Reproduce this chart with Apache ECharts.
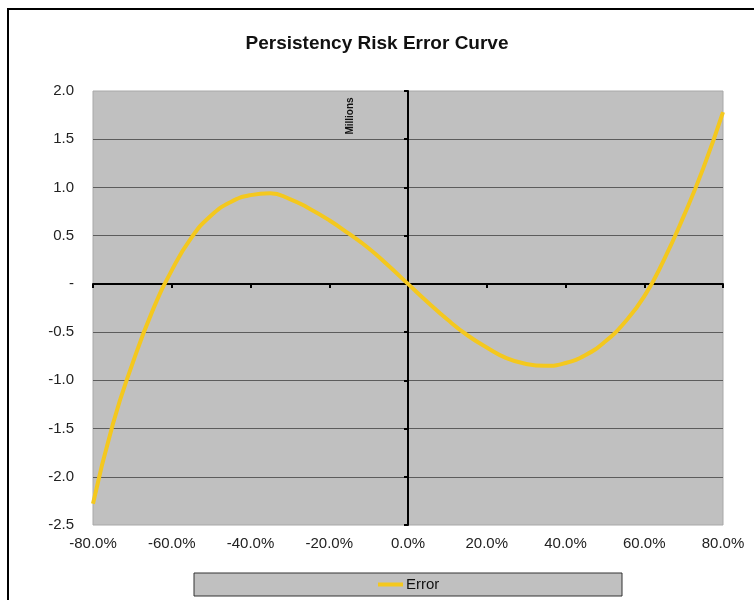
<!DOCTYPE html>
<html>
<head>
<meta charset="utf-8">
<script src="https://cdn.jsdelivr.net/npm/echarts@6/dist/echarts.min.js"></script>
<style>
html,body{margin:0;padding:0;background:#fff;}
#chart{width:754px;height:600px;}
</style>
</head>
<body>
<div id="chart"></div>
<script>
var titleText = 'Persistency Risk Error Curve';
var seriesName = 'Error';
var unitLabel = 'Millions';
var xValues = [-80,-75,-70,-65,-60,-55,-50,-45,-40,-35,-30,-25,-20,-15,-10,-5,0,5,10,15,20,25,30,35,40,45,50,55,60,65,70,75,80];
var errorValues = [-2.28,-1.46,-0.83,-0.29,0.14,0.48,0.71,0.85,0.92,0.94,0.88,0.78,0.66,0.52,0.37,0.19,0.00,-0.19,-0.37,-0.53,-0.66,-0.77,-0.83,-0.85,-0.82,-0.74,-0.60,-0.40,-0.13,0.25,0.70,1.20,1.78];
var xTicks = {min:-80, max:80, step:20};
var yTicks = {min:-2.5, max:2.0, step:0.5};

var data = xValues.map(function(x,i){return [x, errorValues[i]];});
var font = 'Liberation Sans, Arial, sans-serif';

var chart = echarts.init(document.getElementById('chart'));
chart.setOption({
  animation:false,
  backgroundColor:'#ffffff',
  title:{text:titleText,left:'center',top:29,
    textStyle:{fontFamily:font,fontSize:19,fontWeight:'bold',color:'#111'}},
  grid:{left:93,right:31,top:91,bottom:75,show:true,backgroundColor:'#c0c0c0',borderColor:'#a8a8a8',borderWidth:1},
  legend:{data:[seriesName],left:378,top:577,itemWidth:25,itemHeight:4,itemGap:5,icon:'rect',padding:0,
    textStyle:{fontFamily:font,fontSize:15,color:'#111',padding:[0,0,0,-2]}},
  xAxis:[
    {type:'value',min:xTicks.min,max:xTicks.max,interval:xTicks.step,position:'bottom',
      axisLine:{show:false,onZero:false},axisTick:{show:false},splitLine:{show:false},
      axisLabel:{margin:11,fontFamily:font,fontSize:15,color:'#222',
        formatter:function(v){return v.toFixed(1)+'%';}}},
    {type:'value',min:xTicks.min,max:xTicks.max,interval:xTicks.step,position:'bottom',
      axisLine:{show:true,onZero:true,onZeroAxisIndex:0,lineStyle:{color:'#000',width:2}},
      axisTick:{show:true,length:4,lineStyle:{color:'#000',width:2}},
      axisLabel:{show:false},splitLine:{show:false}}
  ],
  yAxis:[
    {type:'value',min:yTicks.min,max:yTicks.max,interval:yTicks.step,position:'left',
      axisLine:{show:false,onZero:false},axisTick:{show:false},
      splitLine:{show:true,showMinLine:false,showMaxLine:false,lineStyle:{color:'#5c5c5c',width:1}},
      axisLabel:{margin:19,fontFamily:font,fontSize:15,color:'#222',
        formatter:function(v){return Math.abs(v)<1e-9?'-':v.toFixed(1);}}},
    {type:'value',min:yTicks.min,max:yTicks.max,interval:yTicks.step,position:'left',
      axisLine:{show:true,onZero:true,onZeroAxisIndex:0,lineStyle:{color:'#000',width:2}},
      axisTick:{show:true,length:4,lineStyle:{color:'#000',width:2}},
      axisLabel:{show:false},splitLine:{show:false}}
  ],
  graphic:[
    {type:'rect',shape:{x:8,y:9,width:800,height:700},style:{fill:'none',stroke:'#000',lineWidth:2},z:-1},
    {type:'rect',shape:{x:194,y:573,width:428,height:23},style:{fill:'#c0c0c0',stroke:'#333',lineWidth:1},z:-1},
    {type:'text',x:350,y:116,rotation:Math.PI/2,style:{text:unitLabel,fill:'#111',font:'bold 10px '+font,align:'center',verticalAlign:'middle'}}
  ],
  series:[{name:seriesName,type:'line',xAxisIndex:0,yAxisIndex:0,data:data,smooth:true,showSymbol:false,
    lineStyle:{color:'#f4c81e',width:4},itemStyle:{color:'#f4c81e'},z:3}]
});
</script>
</body>
</html>
